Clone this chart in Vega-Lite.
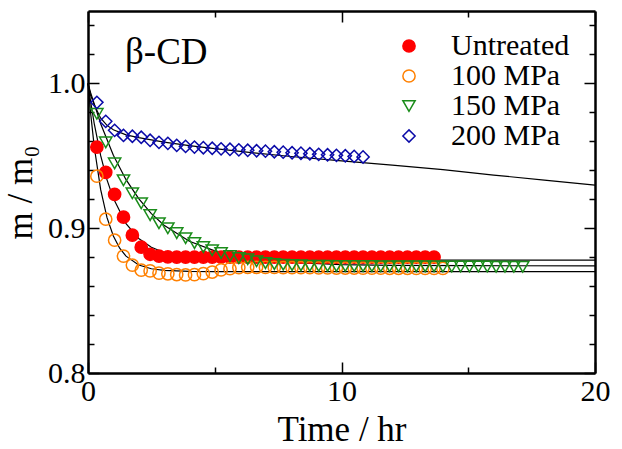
{
  "$schema": "https://vega.github.io/schema/vega-lite/v6.json",
  "width": 507,
  "height": 362,
  "autosize": "none",
  "padding": {"left": 88, "top": 11, "right": 27, "bottom": 76},
  "background": "white",
  "config": {
    "view": {"stroke": null},
    "font": "Liberation Serif",
    "axis": {
      "domainColor": "black",
      "domainWidth": 2.5,
      "tickColor": "black",
      "tickWidth": 1.5,
      "grid": false,
      "labelFont": "Liberation Serif",
      "labelFontSize": 30,
      "labelColor": "black",
      "titleFont": "Liberation Serif",
      "titleFontSize": 35,
      "titleFontWeight": "normal",
      "titleColor": "black"
    },
    "legend": {
      "labelFont": "Liberation Serif",
      "labelFontSize": 30,
      "labelColor": "black",
      "symbolStrokeWidth": 1.5,
      "rowPadding": 0,
      "padding": 0
    }
  },
  "datasets": {
    "pts": [
      {"series": "Untreated", "t": 0.35, "m": 0.956},
      {"series": "Untreated", "t": 0.7, "m": 0.9386},
      {"series": "Untreated", "t": 1.05, "m": 0.9234},
      {"series": "Untreated", "t": 1.4, "m": 0.9076},
      {"series": "Untreated", "t": 1.75, "m": 0.8952},
      {"series": "Untreated", "t": 2.1, "m": 0.8869},
      {"series": "Untreated", "t": 2.45, "m": 0.882},
      {"series": "Untreated", "t": 2.8, "m": 0.8807},
      {"series": "Untreated", "t": 3.15, "m": 0.8802},
      {"series": "Untreated", "t": 3.5, "m": 0.88},
      {"series": "Untreated", "t": 3.85, "m": 0.88},
      {"series": "Untreated", "t": 4.2, "m": 0.88},
      {"series": "Untreated", "t": 4.55, "m": 0.88},
      {"series": "Untreated", "t": 4.9, "m": 0.88},
      {"series": "Untreated", "t": 5.25, "m": 0.88},
      {"series": "Untreated", "t": 5.6, "m": 0.88},
      {"series": "Untreated", "t": 5.95, "m": 0.88},
      {"series": "Untreated", "t": 6.3, "m": 0.88},
      {"series": "Untreated", "t": 6.65, "m": 0.88},
      {"series": "Untreated", "t": 7.0, "m": 0.88},
      {"series": "Untreated", "t": 7.35, "m": 0.88},
      {"series": "Untreated", "t": 7.7, "m": 0.88},
      {"series": "Untreated", "t": 8.05, "m": 0.88},
      {"series": "Untreated", "t": 8.4, "m": 0.88},
      {"series": "Untreated", "t": 8.75, "m": 0.88},
      {"series": "Untreated", "t": 9.1, "m": 0.88},
      {"series": "Untreated", "t": 9.45, "m": 0.88},
      {"series": "Untreated", "t": 9.8, "m": 0.88},
      {"series": "Untreated", "t": 10.15, "m": 0.88},
      {"series": "Untreated", "t": 10.5, "m": 0.88},
      {"series": "Untreated", "t": 10.85, "m": 0.88},
      {"series": "Untreated", "t": 11.2, "m": 0.88},
      {"series": "Untreated", "t": 11.55, "m": 0.88},
      {"series": "Untreated", "t": 11.9, "m": 0.88},
      {"series": "Untreated", "t": 12.25, "m": 0.88},
      {"series": "Untreated", "t": 12.6, "m": 0.88},
      {"series": "Untreated", "t": 12.95, "m": 0.88},
      {"series": "Untreated", "t": 13.3, "m": 0.88},
      {"series": "Untreated", "t": 13.65, "m": 0.88},

      {"series": "100 MPa", "t": 0.35, "m": 0.9359},
      {"series": "100 MPa", "t": 0.7, "m": 0.9062},
      {"series": "100 MPa", "t": 1.05, "m": 0.8917},
      {"series": "100 MPa", "t": 1.4, "m": 0.8807},
      {"series": "100 MPa", "t": 1.75, "m": 0.8745},
      {"series": "100 MPa", "t": 2.1, "m": 0.871},
      {"series": "100 MPa", "t": 2.45, "m": 0.8705},
      {"series": "100 MPa", "t": 2.8, "m": 0.869},
      {"series": "100 MPa", "t": 3.15, "m": 0.8685},
      {"series": "100 MPa", "t": 3.5, "m": 0.868},
      {"series": "100 MPa", "t": 3.85, "m": 0.8677},
      {"series": "100 MPa", "t": 4.2, "m": 0.8679},
      {"series": "100 MPa", "t": 4.55, "m": 0.8686},
      {"series": "100 MPa", "t": 4.9, "m": 0.8697},
      {"series": "100 MPa", "t": 5.25, "m": 0.8712},
      {"series": "100 MPa", "t": 5.6, "m": 0.872},
      {"series": "100 MPa", "t": 5.95, "m": 0.8728},
      {"series": "100 MPa", "t": 6.3, "m": 0.873},
      {"series": "100 MPa", "t": 6.65, "m": 0.873},
      {"series": "100 MPa", "t": 7.0, "m": 0.8729},
      {"series": "100 MPa", "t": 7.35, "m": 0.8729},
      {"series": "100 MPa", "t": 7.7, "m": 0.8728},
      {"series": "100 MPa", "t": 8.05, "m": 0.8728},
      {"series": "100 MPa", "t": 8.4, "m": 0.8727},
      {"series": "100 MPa", "t": 8.75, "m": 0.8727},
      {"series": "100 MPa", "t": 9.1, "m": 0.8726},
      {"series": "100 MPa", "t": 9.45, "m": 0.8726},
      {"series": "100 MPa", "t": 9.8, "m": 0.8725},
      {"series": "100 MPa", "t": 10.15, "m": 0.8725},
      {"series": "100 MPa", "t": 10.5, "m": 0.8725},
      {"series": "100 MPa", "t": 10.85, "m": 0.8724},
      {"series": "100 MPa", "t": 11.2, "m": 0.8724},
      {"series": "100 MPa", "t": 11.55, "m": 0.8724},
      {"series": "100 MPa", "t": 11.9, "m": 0.8723},
      {"series": "100 MPa", "t": 12.25, "m": 0.8723},
      {"series": "100 MPa", "t": 12.6, "m": 0.8723},
      {"series": "100 MPa", "t": 12.95, "m": 0.8722},
      {"series": "100 MPa", "t": 13.3, "m": 0.8722},
      {"series": "100 MPa", "t": 13.65, "m": 0.8722},
      {"series": "100 MPa", "t": 14.0, "m": 0.8722},

      {"series": "150 MPa", "t": 0.35, "m": 0.979},
      {"series": "150 MPa", "t": 0.7, "m": 0.9593},
      {"series": "150 MPa", "t": 1.05, "m": 0.9448},
      {"series": "150 MPa", "t": 1.4, "m": 0.9331},
      {"series": "150 MPa", "t": 1.75, "m": 0.9241},
      {"series": "150 MPa", "t": 2.1, "m": 0.9172},
      {"series": "150 MPa", "t": 2.45, "m": 0.909},
      {"series": "150 MPa", "t": 2.8, "m": 0.9034},
      {"series": "150 MPa", "t": 3.15, "m": 0.9},
      {"series": "150 MPa", "t": 3.5, "m": 0.8966},
      {"series": "150 MPa", "t": 3.85, "m": 0.8931},
      {"series": "150 MPa", "t": 4.2, "m": 0.8897},
      {"series": "150 MPa", "t": 4.55, "m": 0.8869},
      {"series": "150 MPa", "t": 4.9, "m": 0.8848},
      {"series": "150 MPa", "t": 5.25, "m": 0.8828},
      {"series": "150 MPa", "t": 5.6, "m": 0.8807},
      {"series": "150 MPa", "t": 5.95, "m": 0.8793},
      {"series": "150 MPa", "t": 6.3, "m": 0.8786},
      {"series": "150 MPa", "t": 6.65, "m": 0.8772},
      {"series": "150 MPa", "t": 7.0, "m": 0.8759},
      {"series": "150 MPa", "t": 7.35, "m": 0.8752},
      {"series": "150 MPa", "t": 7.7, "m": 0.8748},
      {"series": "150 MPa", "t": 8.05, "m": 0.8745},
      {"series": "150 MPa", "t": 8.4, "m": 0.8743},
      {"series": "150 MPa", "t": 8.75, "m": 0.8741},
      {"series": "150 MPa", "t": 9.1, "m": 0.874},
      {"series": "150 MPa", "t": 9.45, "m": 0.874},
      {"series": "150 MPa", "t": 9.8, "m": 0.8739},
      {"series": "150 MPa", "t": 10.15, "m": 0.8739},
      {"series": "150 MPa", "t": 10.5, "m": 0.8738},
      {"series": "150 MPa", "t": 10.85, "m": 0.8738},
      {"series": "150 MPa", "t": 11.2, "m": 0.8738},
      {"series": "150 MPa", "t": 11.55, "m": 0.8737},
      {"series": "150 MPa", "t": 11.9, "m": 0.8737},
      {"series": "150 MPa", "t": 12.25, "m": 0.8737},
      {"series": "150 MPa", "t": 12.6, "m": 0.8736},
      {"series": "150 MPa", "t": 12.95, "m": 0.8736},
      {"series": "150 MPa", "t": 13.3, "m": 0.8736},
      {"series": "150 MPa", "t": 13.65, "m": 0.8736},
      {"series": "150 MPa", "t": 14.0, "m": 0.8735},
      {"series": "150 MPa", "t": 14.35, "m": 0.8735},
      {"series": "150 MPa", "t": 14.7, "m": 0.8735},
      {"series": "150 MPa", "t": 15.05, "m": 0.8735},
      {"series": "150 MPa", "t": 15.4, "m": 0.8735},
      {"series": "150 MPa", "t": 15.75, "m": 0.8735},
      {"series": "150 MPa", "t": 16.1, "m": 0.8734},
      {"series": "150 MPa", "t": 16.45, "m": 0.8734},
      {"series": "150 MPa", "t": 16.8, "m": 0.8734},
      {"series": "150 MPa", "t": 17.15, "m": 0.8734},

      {"series": "200 MPa", "t": 0.35, "m": 0.9869},
      {"series": "200 MPa", "t": 0.7, "m": 0.9738},
      {"series": "200 MPa", "t": 1.05, "m": 0.9676},
      {"series": "200 MPa", "t": 1.4, "m": 0.9641},
      {"series": "200 MPa", "t": 1.75, "m": 0.9635},
      {"series": "200 MPa", "t": 2.1, "m": 0.9628},
      {"series": "200 MPa", "t": 2.45, "m": 0.9607},
      {"series": "200 MPa", "t": 2.8, "m": 0.9593},
      {"series": "200 MPa", "t": 3.15, "m": 0.9586},
      {"series": "200 MPa", "t": 3.5, "m": 0.9572},
      {"series": "200 MPa", "t": 3.85, "m": 0.9565},
      {"series": "200 MPa", "t": 4.2, "m": 0.956},
      {"series": "200 MPa", "t": 4.55, "m": 0.9556},
      {"series": "200 MPa", "t": 4.9, "m": 0.9552},
      {"series": "200 MPa", "t": 5.25, "m": 0.9548},
      {"series": "200 MPa", "t": 5.6, "m": 0.9545},
      {"series": "200 MPa", "t": 5.95, "m": 0.9541},
      {"series": "200 MPa", "t": 6.3, "m": 0.9538},
      {"series": "200 MPa", "t": 6.65, "m": 0.9535},
      {"series": "200 MPa", "t": 7.0, "m": 0.9532},
      {"series": "200 MPa", "t": 7.35, "m": 0.9528},
      {"series": "200 MPa", "t": 7.7, "m": 0.9525},
      {"series": "200 MPa", "t": 8.05, "m": 0.9521},
      {"series": "200 MPa", "t": 8.4, "m": 0.9518},
      {"series": "200 MPa", "t": 8.75, "m": 0.9514},
      {"series": "200 MPa", "t": 9.1, "m": 0.951},
      {"series": "200 MPa", "t": 9.45, "m": 0.9507},
      {"series": "200 MPa", "t": 9.8, "m": 0.9503},
      {"series": "200 MPa", "t": 10.15, "m": 0.95},
      {"series": "200 MPa", "t": 10.5, "m": 0.9496},
      {"series": "200 MPa", "t": 10.85, "m": 0.9492}
    ],
    "fit": [
      {"series": "Untreated", "t": 0, "m": 1.0},
      {"series": "Untreated", "t": 0.1, "m": 0.9878},
      {"series": "Untreated", "t": 0.25, "m": 0.9718},
      {"series": "Untreated", "t": 0.5, "m": 0.9501},
      {"series": "Untreated", "t": 0.75, "m": 0.9334},
      {"series": "Untreated", "t": 1, "m": 0.9206},
      {"series": "Untreated", "t": 1.5, "m": 0.9031},
      {"series": "Untreated", "t": 2, "m": 0.8929},
      {"series": "Untreated", "t": 2.5, "m": 0.8868},
      {"series": "Untreated", "t": 3, "m": 0.8832},
      {"series": "Untreated", "t": 4, "m": 0.8798},
      {"series": "Untreated", "t": 5, "m": 0.8786},
      {"series": "Untreated", "t": 6, "m": 0.8782},
      {"series": "Untreated", "t": 8, "m": 0.878},
      {"series": "Untreated", "t": 20, "m": 0.878},

      {"series": "100 MPa", "t": 0, "m": 1.0},
      {"series": "100 MPa", "t": 0.1, "m": 0.98},
      {"series": "100 MPa", "t": 0.25, "m": 0.9557},
      {"series": "100 MPa", "t": 0.5, "m": 0.9266},
      {"series": "100 MPa", "t": 0.75, "m": 0.9073},
      {"series": "100 MPa", "t": 1, "m": 0.8946},
      {"series": "100 MPa", "t": 1.25, "m": 0.8862},
      {"series": "100 MPa", "t": 1.5, "m": 0.8807},
      {"series": "100 MPa", "t": 2, "m": 0.8746},
      {"series": "100 MPa", "t": 2.5, "m": 0.872},
      {"series": "100 MPa", "t": 3, "m": 0.8709},
      {"series": "100 MPa", "t": 4, "m": 0.8702},
      {"series": "100 MPa", "t": 5, "m": 0.87},
      {"series": "100 MPa", "t": 20, "m": 0.87},

      {"series": "150 MPa", "t": 0, "m": 1.0},
      {"series": "150 MPa", "t": 0.1, "m": 0.9938},
      {"series": "150 MPa", "t": 0.5, "m": 0.9721},
      {"series": "150 MPa", "t": 1, "m": 0.9504},
      {"series": "150 MPa", "t": 1.5, "m": 0.9335},
      {"series": "150 MPa", "t": 2, "m": 0.9204},
      {"series": "150 MPa", "t": 2.5, "m": 0.9101},
      {"series": "150 MPa", "t": 3, "m": 0.9021},
      {"series": "150 MPa", "t": 4, "m": 0.891},
      {"series": "150 MPa", "t": 5, "m": 0.8843},
      {"series": "150 MPa", "t": 6, "m": 0.8803},
      {"series": "150 MPa", "t": 7, "m": 0.8778},
      {"series": "150 MPa", "t": 8, "m": 0.8763},
      {"series": "150 MPa", "t": 10, "m": 0.8748},
      {"series": "150 MPa", "t": 12, "m": 0.8743},
      {"series": "150 MPa", "t": 15, "m": 0.8741},
      {"series": "150 MPa", "t": 20, "m": 0.874},

      {"series": "200 MPa", "t": 0, "m": 1.0},
      {"series": "200 MPa", "t": 0.1, "m": 0.992},
      {"series": "200 MPa", "t": 0.25, "m": 0.985},
      {"series": "200 MPa", "t": 0.5, "m": 0.976},
      {"series": "200 MPa", "t": 0.75, "m": 0.971},
      {"series": "200 MPa", "t": 1, "m": 0.968},
      {"series": "200 MPa", "t": 1.5, "m": 0.9645},
      {"series": "200 MPa", "t": 2, "m": 0.9625},
      {"series": "200 MPa", "t": 3, "m": 0.9595},
      {"series": "200 MPa", "t": 4, "m": 0.957},
      {"series": "200 MPa", "t": 5, "m": 0.955},
      {"series": "200 MPa", "t": 6, "m": 0.953},
      {"series": "200 MPa", "t": 8, "m": 0.9495},
      {"series": "200 MPa", "t": 10, "m": 0.9465},
      {"series": "200 MPa", "t": 12, "m": 0.9435},
      {"series": "200 MPa", "t": 14, "m": 0.9405},
      {"series": "200 MPa", "t": 16, "m": 0.9367},
      {"series": "200 MPa", "t": 18, "m": 0.9332},
      {"series": "200 MPa", "t": 20, "m": 0.9297}
    ]
  },
  "layer": [
    {
      "data": {"name": "fit"},
      "mark": {"type": "line", "color": "black", "strokeWidth": 1.2},
      "encoding": {
        "x": {
          "field": "t", "type": "quantitative",
          "scale": {"domain": [0, 20], "nice": false, "zero": false},
          "axis": {
            "orient": "bottom",
            "values": [0, 5, 10, 15, 20],
            "labelExpr": "datum.value % 10 === 0 ? datum.label : ''",
            "tickSize": {"condition": {"test": "datum.value % 10 === 0", "value": -11}, "value": -6},
            "labelPadding": 14,
            "labelFlush": false,
            "title": "Time / hr",
            "titlePadding": 6
          }
        },
        "y": {
          "field": "m", "type": "quantitative",
          "scale": {"domain": [0.8, 1.05], "nice": false, "zero": false},
          "axis": {
            "orient": "left",
            "values": [0.8, 0.82, 0.84, 0.86, 0.88, 0.9, 0.92, 0.94, 0.96, 0.98, 1.0, 1.02, 1.04],
            "labelExpr": "abs(datum.value * 10 - round(datum.value * 10)) < 0.001 ? format(datum.value, '.1f') : ''",
            "tickSize": {"condition": {"test": "abs(datum.value * 10 - round(datum.value * 10)) < 0.001", "value": -11}, "value": -6},
            "labelPadding": 14,
            "labelFlush": false,
            "title": "m / m₀",
            "titlePadding": 9
          }
        },
        "detail": {"field": "series", "type": "nominal"}
      }
    },
    {
      "data": {"name": "fit"},
      "mark": {"type": "line", "opacity": 0},
      "encoding": {
        "x": {
          "field": "t", "type": "quantitative",
          "axis": {
            "orient": "top",
            "values": [0, 5, 10, 15, 20],
            "labels": false,
            "tickSize": {"condition": {"test": "datum.value % 10 === 0", "value": -11}, "value": -6},
            "title": null
          }
        },
        "y": {
          "field": "m", "type": "quantitative",
          "axis": {
            "orient": "right",
            "values": [0.8, 0.82, 0.84, 0.86, 0.88, 0.9, 0.92, 0.94, 0.96, 0.98, 1.0, 1.02, 1.04],
            "labels": false,
            "tickSize": {"condition": {"test": "abs(datum.value * 10 - round(datum.value * 10)) < 0.001", "value": -11}, "value": -6},
            "title": null
          }
        },
        "detail": {"field": "series", "type": "nominal"}
      }
    },
    {
      "data": {"name": "pts"},
      "mark": {"type": "point", "filled": false, "strokeWidth": 1.5, "opacity": 1},
      "encoding": {
        "x": {"field": "t", "type": "quantitative", "axis": null},
        "y": {"field": "m", "type": "quantitative", "axis": null},
        "color": {
          "field": "series", "type": "nominal",
          "scale": {"domain": ["Untreated", "100 MPa", "150 MPa", "200 MPa"], "range": ["#ff0000", "#ff8000", "#1a8c1a", "#0a0aa8"]},
          "legend": {"orient": "none", "legendX": 306, "legendY": 20, "title": null, "labelOffset": 27}
        },
        "fill": {
          "field": "series", "type": "nominal",
          "scale": {"domain": ["Untreated", "100 MPa", "150 MPa", "200 MPa"], "range": ["#ff0000", "transparent", "transparent", "transparent"]},
          "legend": {"orient": "none", "legendX": 306, "legendY": 20, "title": null, "labelOffset": 27}
        },
        "shape": {
          "field": "series", "type": "nominal",
          "scale": {"domain": ["Untreated", "100 MPa", "150 MPa", "200 MPa"], "range": ["circle", "circle", "triangle-down", "diamond"]},
          "legend": {"orient": "none", "legendX": 306, "legendY": 20, "title": null, "labelOffset": 27}
        },
        "size": {
          "field": "series", "type": "nominal",
          "scale": {"domain": ["Untreated", "100 MPa", "150 MPa", "200 MPa"], "range": [150, 150, 215, 215]},
          "legend": {"orient": "none", "legendX": 306, "legendY": 20, "title": null, "labelOffset": 27}
        }
      }
    },
    {
      "data": {"values": [{}]},
      "mark": {"type": "text", "text": "β-CD", "align": "left", "baseline": "alphabetic", "font": "Liberation Serif", "fontSize": 37, "color": "black"},
      "encoding": {
        "x": {"datum": 1.46, "type": "quantitative", "axis": null},
        "y": {"datum": 1.0131, "type": "quantitative", "axis": null}
      }
    }
  ],
  "resolve": {"axis": {"x": "independent", "y": "independent"}}
}
